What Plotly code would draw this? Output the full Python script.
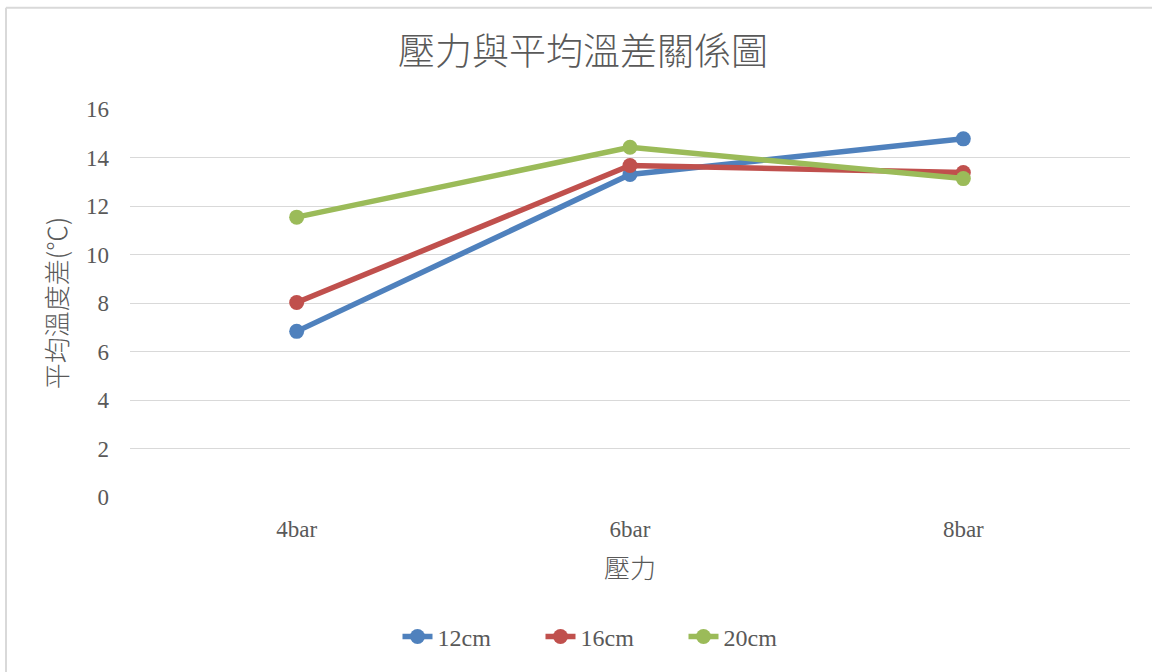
import plotly.graph_objects as go

categories = ["4bar", "6bar", "8bar"]
series_names = ["12cm", "16cm", "20cm"]
values_12cm = [6.83, 13.30, 14.77]
values_16cm = [8.02, 13.67, 13.38]
values_20cm = [11.54, 14.42, 13.13]
colors = ["#4F81BD", "#C0504D", "#9BBB59"]
y_ticks = [0, 2, 4, 6, 8, 10, 12, 14, 16]

W, H = 1152, 672
L, R, T, B = 130, 22, 109, 172

fig = go.Figure()
for name, vals, c in zip(series_names, [values_12cm, values_16cm, values_20cm], colors):
    fig.add_trace(go.Scatter(
        x=categories, y=vals, name=name, mode="lines+markers",
        line=dict(color=c, width=5.5),
        marker=dict(color=c, size=15),
    ))

serif = "Liberation Serif, DejaVu Serif, serif"
cjk = "Noto Sans CJK TC, Noto Sans CJK SC, sans-serif"

pw = W - L - R
ph = H - T - B

fig.update_layout(
    width=W, height=H,
    margin=dict(l=L, r=R, t=T, b=B),
    paper_bgcolor="white", plot_bgcolor="white",
    title=dict(text="壓力與平均溫差關係圖", x=(583 - L) / pw, xref="paper", xanchor="center",
               y=1 - 52 / H, yanchor="middle",
               font=dict(family=cjk, size=37, color="#595959", weight=300)),
    xaxis=dict(
        type="category", range=[-0.5, 2.5], showgrid=False, zeroline=False,
        showline=False, ticks="", ticklabelstandoff=16,
        tickfont=dict(family=serif, size=23, color="#595959"),
        title=dict(text="壓力", font=dict(family=cjk, size=26, color="#595959", weight=300), standoff=18),
    ),
    yaxis=dict(
        range=[0, 16], tickvals=y_ticks, showgrid=True, gridcolor="#D9D9D9", gridwidth=1.3,
        zeroline=False, showline=False, ticks="", ticklabelstandoff=20,
        tickfont=dict(family=serif, size=23, color="#595959"),
        title=dict(text="平均溫度差(℃)", font=dict(family=cjk, size=26, color="#595959", weight=300), standoff=10),
    ),
    legend=dict(orientation="h", x=(612 - L) / pw, xanchor="center", y=-(641 - (H - B)) / ph,
                yanchor="middle", font=dict(family=serif, size=24, color="#595959"),
                tracegroupgap=0, entrywidth=98, entrywidthmode="pixels"),
    showlegend=True,
)

# chart-area border (top and left visible)
fig.add_shape(type="line", xref="paper", yref="paper",
              x0=(6 - L) / pw, x1=(1160 - L) / pw,
              y0=(H - B - 7) / ph, y1=(H - B - 7) / ph,
              line=dict(color="#D9D9D9", width=2))
fig.add_shape(type="line", xref="paper", yref="paper",
              x0=(6 - L) / pw, x1=(6 - L) / pw,
              y0=(H - B - 7) / ph, y1=(H - B - 690) / ph,
              line=dict(color="#D9D9D9", width=2))

fig.write_html("out.html")
